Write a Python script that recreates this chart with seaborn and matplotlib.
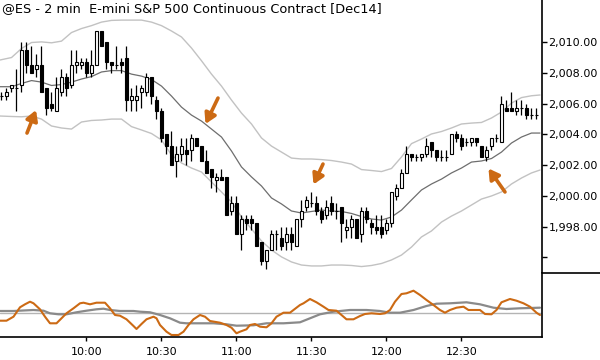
import numpy as np
import pandas as pd
import seaborn as sns
import matplotlib
matplotlib.use("Agg")
import matplotlib.pyplot as plt
from matplotlib.lines import Line2D

# ---- data (2-min bars, 09:26 .. 13:00) ----
opens = [2006.5, 2006.5, 2007.0, 2007.0, 2007.25, 2009.5, 2008.5, 2008.25, 2008.5, 2007.0,
         2006.0, 2005.5, 2006.75, 2007.75, 2007.25, 2008.5, 2008.5, 2008.75, 2008.0, 2008.5,
         2010.75, 2010.0, 2008.75, 2008.5, 2008.75, 2009.0, 2006.25, 2006.25, 2006.75, 2006.75,
         2007.75, 2006.25, 2005.5, 2004.0, 2003.25, 2002.25, 2002.75, 2003.0, 2003.0, 2003.75,
         2003.25, 2002.25, 2001.75, 2001.0, 2001.25, 2001.25, 1999.0, 1999.5, 1997.5, 1998.5,
         1998.5, 1998.25, 1997.0, 1995.75, 1996.5, 1997.5, 1997.25, 1997.0, 1997.5, 1996.75,
         1998.5, 1999.25, 1999.5, 1999.5, 1999.0, 1998.75, 1999.5, 1999.0, 1999.25, 1997.75,
         1998.0, 1998.5, 1997.5, 1999.0, 1998.25, 1998.0, 1998.0, 1997.75, 1998.25, 2000.0,
         2000.5, 2001.5, 2002.75, 2002.5, 2002.5, 2002.75, 2003.5, 2003.0, 2002.5, 2002.5,
         2002.75, 2004.0, 2003.75, 2003.5, 2003.5, 2003.75, 2003.25, 2002.5, 2003.25, 2003.75,
         2003.5, 2005.75, 2005.75, 2005.5, 2005.75, 2005.75, 2005.25, 2005.25]
highs = [2006.75, 2007.0, 2007.25, 2008.25, 2010.0, 2010.0, 2009.75, 2009.25, 2009.75, 2007.0,
         2006.75, 2007.75, 2008.25, 2008.0, 2009.5, 2009.5, 2009.0, 2009.0, 2009.5, 2010.75,
         2010.75, 2010.0, 2008.75, 2009.75, 2009.0, 2009.75, 2007.0, 2007.25, 2007.25, 2008.0,
         2007.75, 2006.5, 2005.75, 2004.0, 2004.25, 2003.25, 2003.75, 2003.75, 2004.0, 2003.75,
         2003.25, 2003.0, 2001.75, 2001.5, 2001.75, 2001.25, 2000.0, 2000.0, 1998.75, 1998.75,
         1998.75, 1998.25, 1997.0, 1996.5, 1997.75, 1997.75, 1998.0, 1998.0, 1998.0, 1998.5,
         1999.75, 2000.0, 2000.25, 2000.0, 1999.25, 1999.75, 2000.0, 1999.5, 1999.25, 1998.5,
         1998.75, 1998.5, 1999.25, 1999.25, 1998.5, 1998.75, 1998.75, 1998.5, 2000.25, 2000.75,
         2001.75, 2003.25, 2002.75, 2002.75, 2002.75, 2003.75, 2003.5, 2003.0, 2003.0, 2003.0,
         2004.0, 2004.25, 2004.0, 2003.75, 2003.75, 2003.75, 2003.25, 2003.25, 2003.75, 2004.0,
         2006.5, 2006.25, 2006.75, 2006.25, 2006.25, 2006.0, 2005.75, 2005.75]
lows = [2006.25, 2006.25, 2006.75, 2005.5, 2006.75, 2008.0, 2008.0, 2007.75, 2006.75, 2005.25,
        2005.5, 2005.5, 2006.5, 2006.5, 2007.0, 2008.0, 2008.25, 2007.75, 2007.75, 2008.5,
        2009.75, 2008.25, 2008.0, 2008.25, 2008.0, 2005.5, 2005.5, 2005.5, 2005.75, 2006.5,
        2006.0, 2005.0, 2003.5, 2002.75, 2002.0, 2001.25, 2002.25, 2002.0, 2002.25, 2003.25,
        2002.25, 2001.5, 2000.5, 2000.25, 2001.0, 1998.75, 1998.75, 1997.5, 1996.5, 1997.75,
        1997.75, 1996.75, 1995.5, 1995.25, 1996.5, 1996.5, 1996.5, 1996.5, 1996.5, 1996.75,
        1998.0, 1999.0, 1999.25, 1998.75, 1998.25, 1998.5, 1998.75, 1998.5, 1997.0, 1997.25,
        1997.25, 1997.25, 1997.0, 1998.25, 1997.5, 1997.5, 1997.25, 1997.5, 1998.0, 1999.75,
        2000.5, 2001.5, 2002.25, 2002.25, 2002.25, 2002.5, 2002.5, 2002.25, 2002.25, 2002.25,
        2002.75, 2003.5, 2003.0, 2003.25, 2003.25, 2003.25, 2002.5, 2002.25, 2003.0, 2003.5,
        2003.5, 2005.5, 2005.5, 2005.25, 2005.25, 2005.0, 2005.0, 2005.0]
closes = [2006.5, 2006.75, 2007.25, 2007.0, 2009.5, 2008.5, 2008.0, 2008.5, 2006.75, 2005.75,
          2005.75, 2007.0, 2007.75, 2007.0, 2008.5, 2008.75, 2008.75, 2008.0, 2008.5, 2010.75,
          2009.75, 2008.75, 2008.5, 2008.5, 2008.5, 2006.25, 2006.5, 2006.5, 2007.0, 2007.75,
          2006.5, 2005.5, 2003.75, 2003.25, 2002.0, 2002.75, 2003.25, 2002.75, 2003.75, 2003.25,
          2002.25, 2001.5, 2001.25, 2001.25, 2001.0, 1998.75, 1999.5, 1997.5, 1998.5, 1998.25,
          1998.25, 1996.75, 1995.75, 1996.5, 1997.5, 1997.5, 1996.75, 1997.5, 1997.0, 1998.5,
          1999.0, 1999.75, 1999.5, 1999.0, 1998.5, 1999.25, 1999.0, 1999.0, 1998.25, 1998.0,
          1998.5, 1997.25, 1999.0, 1998.5, 1998.0, 1997.75, 1997.5, 1998.25, 2000.25, 2000.5,
          2001.5, 2002.75, 2002.5, 2002.5, 2002.75, 2003.25, 2003.0, 2002.5, 2002.5, 2002.5,
          2004.0, 2003.75, 2003.25, 2003.5, 2003.75, 2003.5, 2002.5, 2003.0, 2003.75, 2003.75,
          2006.0, 2005.5, 2005.5, 2005.75, 2005.75, 2005.25, 2005.25, 2005.25]

# bands / average, read every 2 bars
band_pos = [-0.3, 2, 4, 6, 8, 10, 12, 14, 16, 18, 20, 22, 24, 26, 28, 30, 32, 34, 36, 38,
            40, 42, 44, 46, 48, 50, 52, 54, 56, 58, 60, 62, 64, 66, 68, 70, 72, 74, 76, 78,
            80, 82, 84, 86, 88, 90, 92, 94, 96, 98, 100, 102, 104, 106, 107.7]
band_upper = [2008.85, 2009.01, 2009.60, 2009.99, 2010.03, 2009.97, 2010.08, 2010.64, 2010.90,
              2011.09, 2011.32, 2011.43, 2011.45, 2011.45, 2011.45, 2011.32, 2011.09, 2010.74,
              2010.35, 2009.63, 2008.80, 2007.93, 2007.15, 2006.24, 2005.39, 2004.68, 2003.77,
              2003.24, 2002.85, 2002.46, 2002.40, 2002.40, 2002.36, 2002.30, 2002.20, 2002.07,
              2001.71, 2001.65, 2001.58, 2001.78, 2002.53, 2003.40, 2003.70, 2004.03, 2004.19,
              2004.42, 2004.68, 2004.74, 2004.78, 2005.07, 2005.46, 2006.04, 2006.40, 2006.52,
              2006.57]
band_mid = [2007.11, 2007.11, 2007.32, 2007.51, 2007.41, 2007.19, 2007.25, 2007.41, 2007.61,
            2007.77, 2008.07, 2008.16, 2008.16, 2007.93, 2007.80, 2007.58, 2007.15, 2006.50,
            2005.78, 2005.26, 2004.87, 2004.35, 2003.83, 2002.92, 2001.88, 2001.23, 2000.64,
            1999.86, 1999.47, 1999.01, 1998.88, 1998.98, 1999.07, 1999.01, 1998.98, 1998.85,
            1998.65, 1998.49, 1998.42, 1998.62, 1999.07, 1999.73, 2000.38, 2000.77, 2001.09,
            2001.49, 2001.81, 2002.20, 2002.27, 2002.43, 2002.85, 2003.44, 2003.83, 2004.09,
            2004.09]
band_lower = [2005.20, 2005.17, 2005.15, 2005.20, 2005.00, 2004.55, 2004.42, 2004.35, 2004.81,
              2004.91, 2004.94, 2005.00, 2005.00, 2004.51, 2004.29, 2004.06, 2003.64, 2002.66,
              2002.14, 2001.81, 2001.55, 2000.90, 2000.25, 1999.60, 1998.62, 1997.84, 1997.06,
              1996.47, 1996.02, 1995.69, 1995.49, 1995.43, 1995.43, 1995.49, 1995.49, 1995.46,
              1995.39, 1995.46, 1995.59, 1995.82, 1996.14, 1996.66, 1997.32, 1997.71, 1998.29,
              1998.68, 1999.01, 1999.40, 1999.79, 1999.99, 2000.25, 2000.77, 2001.16, 2001.49,
              2001.68]

# lower panel oscillator
osc_pos = [-0.3, 1.0, 2.4, 3.7, 4.7, 5.7, 6.4, 7.7, 8.7, 9.7, 11.0, 12.0, 13.0, 14.4, 15.7,
           16.4, 17.7, 19.0, 20.7, 21.7, 22.7, 23.7, 25.0, 26.4, 27.0, 28.0, 29.0, 30.4, 31.0,
           31.7, 33.0, 34.0, 35.4, 36.4, 37.4, 38.4, 39.7, 40.7, 41.7, 43.7, 45.0, 46.0, 47.0,
           47.7, 49.0, 49.7, 50.7, 51.7, 53.0, 54.0, 55.0, 56.4, 57.7, 58.4, 59.7, 60.4, 61.7,
           63.0, 64.4, 65.4, 67.0, 68.0, 69.0, 70.4, 71.7, 72.7, 74.0, 75.7, 76.7, 77.7, 78.7,
           80.0, 81.0, 82.4, 83.7, 85.0, 86.4, 87.7, 88.7, 89.7, 91.0, 92.4, 93.4, 95.7, 96.7,
           98.0, 99.0, 100.0, 101.7, 103.0, 104.4, 105.7, 107.0, 107.7]
osc_val = [-7.4, -7.4, -3.4, 6.0, 9.0, 11.6, 10.0, 4.0, -3.4, -10.0, -10.0, -5.0, 0.0, 5.0, 10.0,
           10.6, 9.0, 10.6, 10.6, 5.0, -1.7, -2.4, -6.0, -12.7, -15.7, -10.7, -6.0, -3.4, -5.0,
           -11.7, -18.4, -21.7, -21.7, -18.4, -11.7, -6.0, -1.7, -3.4, -7.7, -9.4, -11.7, -14.4,
           -20.0, -18.4, -16.0, -11.7, -10.7, -13.4, -14.0, -10.0, -3.4, 0.6, 0.6, 3.3, 8.3, 10.0,
           14.3, 11.0, 6.6, 3.3, 2.6, -1.7, -6.0, -6.0, -2.7, -0.7, 0.0, -0.7, 0.0, 3.3, 11.6,
           19.3, 20.0, 22.6, 18.3, 13.3, 8.3, 3.3, 0.6, 3.3, 5.6, 6.6, 3.3, 3.3, -0.7, -1.0, 3.3,
           11.0, 14.3, 12.6, 10.0, 6.6, 0.6, -1.7]
sig_pos = [-0.3, 2.4, 6.4, 8.4, 9.7, 11.4, 13.0, 15.0, 17.0, 19.0, 20.4, 21.7, 23.7, 26.4, 27.7,
           29.7, 31.7, 33.7, 35.7, 37.0, 39.7, 42.4, 45.0, 47.0, 50.4, 53.0, 56.4, 59.7, 61.7,
           63.7, 66.4, 69.7, 73.0, 75.7, 77.7, 79.7, 82.4, 85.0, 87.0, 89.7, 93.0, 95.7, 98.4,
           101.0, 103.7, 107.7]
sig_val = [2.3, 2.3, 3.3, 2.6, 0.0, -1.0, -1.0, 1.0, 2.6, 4.0, 4.6, 3.3, 2.3, 2.3, 1.6, 1.0,
           -1.7, -5.0, -9.4, -10.0, -10.0, -10.0, -11.0, -12.4, -12.0, -10.0, -10.0, -9.0, -5.0,
           -1.0, 1.6, 3.3, 3.3, 2.3, 0.6, 0.6, 3.3, 7.3, 9.6, 10.0, 11.0, 9.0, 5.6, 4.3, 5.0, 5.6]

time_ticks = [17, 32, 47, 62, 77, 92]
time_labels = ["10:00", "10:30", "11:00", "11:30", "12:00", "12:30"]
price_ticks = [1996, 1998, 2000, 2002, 2004, 2006, 2008, 2010]

# arrows: (tail bar, tail price, tip bar, tip price)
arrows = [(5.1, 2004.09, 6.9, 2005.59),
          (43.3, 2006.37, 40.8, 2004.68),
          (64.3, 2002.07, 62.4, 2000.74),
          (100.7, 2000.25, 97.4, 2001.78)]

title = "@ES - 2 min  E-mini S&P 500 Continuous Contract [Dec14]"
ORANGE = "#cc6a14"

sns.set_style("white")
plt.rcParams["font.family"] = ["DejaVu Sans"]

fig = plt.figure(figsize=(6, 3.6), dpi=100)
ax = fig.add_axes([0, 0.2425, 0.9033, 0.7575])
ax2 = fig.add_axes([0, 0.0639, 0.9033, 0.1786], sharex=ax)

df = pd.DataFrame({"o": opens, "h": highs, "l": lows, "c": closes})
df["i"] = np.arange(len(df))
up = df["c"] >= df["o"]

bands = pd.DataFrame({"pos": band_pos, "upper": band_upper, "mid": band_mid, "lower": band_lower})
sns.lineplot(data=bands, x="pos", y="upper", color="#c2c2c2", lw=1, ax=ax)
sns.lineplot(data=bands, x="pos", y="lower", color="#c2c2c2", lw=1, ax=ax)
sns.lineplot(data=bands, x="pos", y="mid", color="#6e6e6e", lw=0.9, ax=ax)

# candles
ax.vlines(df["i"], df["l"], df["h"], color="black", lw=0.9, zorder=3)
body_lo = np.minimum(df["o"], df["c"])
body_h = (df["c"] - df["o"]).abs()
ax.bar(df["i"], body_h, bottom=body_lo, width=0.6,
       color=np.where(up, "white", "black"), edgecolor="black", lw=0.8, zorder=4)

for x0, y0, x1, y1 in arrows:
    ax.annotate("", xy=(x1, y1), xytext=(x0, y0),
                arrowprops=dict(arrowstyle="-|>,head_width=0.35,head_length=0.6",
                                color=ORANGE, lw=2.6, shrinkA=0, shrinkB=0,
                                mutation_scale=10), zorder=5)

ax.set_xlim(-0.3, 108.1)
ax.set_ylim(1994.99, 2012.76)
ax.set_xlabel("")
ax.set_ylabel("")
ax.set_xticks([])
ax.yaxis.tick_right()
ax.set_yticks(price_ticks)
ax.set_yticklabels(["" if v == 1996 else f"{v:,.2f}" for v in price_ticks])
ax.tick_params(axis="y", direction="out", length=3.6, width=1, pad=1, labelsize=8,
               colors="black")
for s in ["left", "top", "bottom"]:
    ax.spines[s].set_visible(False)
ax.spines["right"].set_color("black")
ax.spines["right"].set_linewidth(1.2)

fig.text(2 / 600, 1 - 2 / 360, title, ha="left", va="top", fontsize=9.25, color="black")

# oscillator panel
ax2.axhline(0, color="#b4b4b4", lw=1)
sig = pd.DataFrame({"pos": sig_pos, "val": sig_val})
osc = pd.DataFrame({"pos": osc_pos, "val": osc_val})
sns.lineplot(data=sig, x="pos", y="val", color="#8a8a8a", lw=1.6, ax=ax2)
sns.lineplot(data=osc, x="pos", y="val", color=ORANGE, lw=1.5, ax=ax2)
ax2.set_ylim(-23.7, 40.6)
ax2.set_yticks([])
ax2.set_xlabel("")
ax2.set_ylabel("")
ax2.set_xticks(time_ticks)
ax2.set_xticklabels(time_labels)
ax2.tick_params(axis="x", direction="out", length=3, width=1, pad=4, labelsize=8,
                colors="black", bottom=True)
for s in ["left", "top"]:
    ax2.spines[s].set_visible(False)
for s in ["right", "bottom"]:
    ax2.spines[s].set_color("black")
    ax2.spines[s].set_linewidth(1.2)

fig.add_artist(Line2D([0.9033, 1.0], [0.2425, 0.2425], transform=fig.transFigure,
                      color="black", lw=1.2))

fig.savefig("out.png", dpi=100)
